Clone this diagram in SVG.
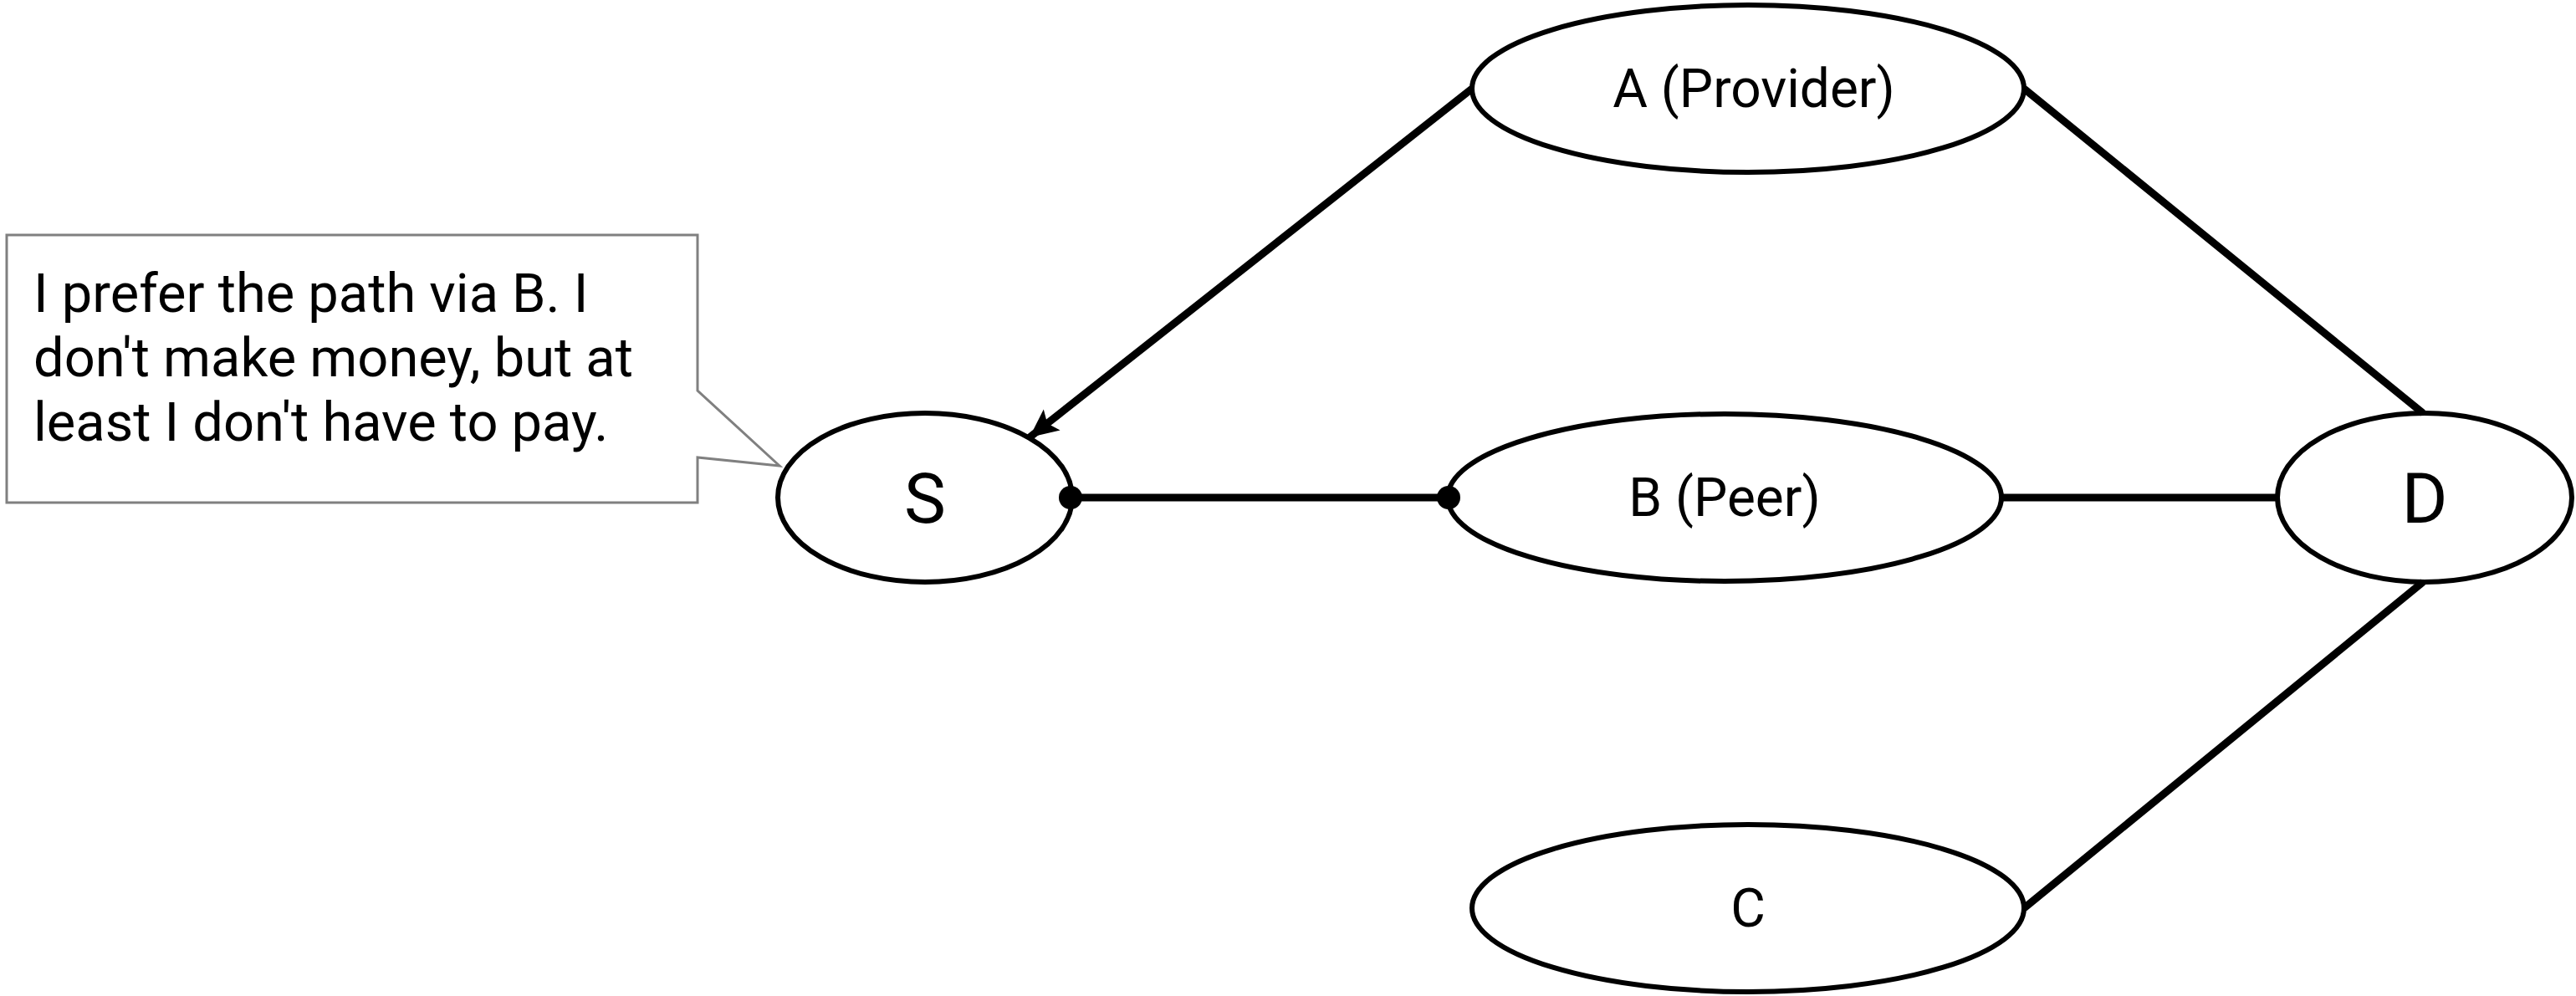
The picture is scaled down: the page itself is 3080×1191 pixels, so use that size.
<svg xmlns="http://www.w3.org/2000/svg" width="3080" height="1191" viewBox="0 0 3080 1191">
<style>
.node{fill:#fff;stroke:#000;stroke-width:6}
.lbl{font-family:Roboto,"Liberation Sans",sans-serif;fill:#000;text-anchor:middle}
.edge{stroke:#000;stroke-width:9;fill:none}
.dot{fill:#000}
.call{fill:#fff;stroke:#808080;stroke-width:3}
.ctext{font-family:Roboto,"Liberation Sans",sans-serif;font-size:65px;fill:#000}
</style>
<defs>
<marker id="arr" markerUnits="userSpaceOnUse" markerWidth="44" markerHeight="40" refX="34" refY="16" orient="auto">
<path d="M0,0 L34,16 L0,32 L7,16 Z" fill="#000"/>
</marker>
</defs>
<rect width="3080" height="1191" fill="#fff"/>
<g id="callout">
<path class="call" d="M8,281 L834,281 L834,467 L932,557 L834,547 L834,601 L8,601 Z"/>
<text class="ctext" x="40" y="373">I prefer the path via B. I</text>
<text class="ctext" x="40" y="450">don't make money, but at</text>
<text class="ctext" x="40" y="527">least I don't have to pay.</text>
</g>
<g id="node-S">
<ellipse class="node" cx="1106" cy="595" rx="176" ry="101"/>
<text class="lbl" x="1106" y="625" font-size="84">S</text>
</g>
<g id="node-A">
<ellipse class="node" cx="2090" cy="106" rx="330" ry="100"/>
<text class="lbl" x="2097" y="128" font-size="64">A (Provider)</text>
</g>
<g id="node-B">
<ellipse class="node" cx="2062" cy="595" rx="331" ry="100"/>
<text class="lbl" x="2062" y="617" font-size="64">B (Peer)</text>
</g>
<g id="node-D">
<ellipse class="node" cx="2899" cy="595" rx="176" ry="101"/>
<text class="lbl" x="2899" y="625" font-size="84">D</text>
</g>
<g id="node-C">
<ellipse class="node" cx="2090" cy="1086" rx="330" ry="100"/>
<text class="lbl" x="2090" y="1108" font-size="64">C</text>
</g>
<g id="connectors">
<line class="edge" x1="1760" y1="106" x2="1231" y2="523" marker-end="url(#arr)"/>
<line class="edge" x1="1280" y1="595" x2="1732" y2="595"/>
<circle class="dot" cx="1280" cy="595" r="14"/>
<circle class="dot" cx="1732" cy="595" r="14"/>
<line class="edge" x1="2420" y1="106" x2="2897" y2="494"/>
<line class="edge" x1="2393" y1="595" x2="2723" y2="595"/>
<line class="edge" x1="2897" y1="696" x2="2420" y2="1086"/>
</g>
</svg>
